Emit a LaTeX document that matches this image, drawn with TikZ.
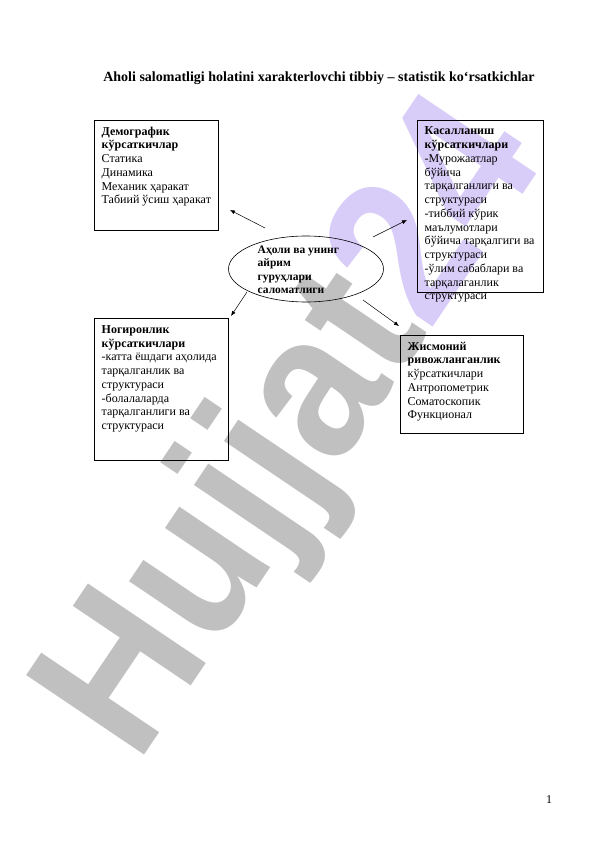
\documentclass[tikz,border=0pt]{standalone}
\usepackage{fontspec}
\setmainfont{Liberation Serif}
\newfontfamily\wmfont{Liberation Sans}
\usetikzlibrary{arrows.meta,shapes.geometric}
\definecolor{wmgray}{RGB}{192,192,192}
\definecolor{wmlav}{RGB}{216,204,248}
\tikzset{
  box/.style={draw, line width=0.6pt, anchor=north west, inner sep=0pt},
  txt/.style={anchor=north west, inner sep=0pt, align=left, font=\fontsize{12}{13.75}\selectfont},
  conn/.style={line width=0.5pt, -{Latex[length=5pt,width=4pt]}},
}
\begin{document}
\begin{tikzpicture}[x=1pt,y=-1pt]
\useasboundingbox (0,0) rectangle (596,842);
% watermark
\node[rotate=56, yscale=1.1, inner sep=0pt, font=\wmfont\bfseries\fontsize{188}{188}\selectfont] (wm) at (298,432) {\textcolor{wmgray}{Hujjat}\textcolor{wmlav}{24}};
% title
\node[inner sep=0pt, font=\bfseries\fontsize{14}{16}\selectfont] (title) at (319,78) {Aholi salomatligi holatini xarakterlovchi tibbiy – statistik ko‘rsatkichlar};
% boxes
\node[box, minimum width=124pt, minimum height=110pt] (dem) at (94,120) {};
\node[box, minimum width=126pt, minimum height=172pt] (kas) at (417,120) {};
\node[box, minimum width=134pt, minimum height=142pt] (nog) at (94,318) {};
\node[box, minimum width=123pt, minimum height=98pt] (jis) at (400,335) {};
\node[draw, line width=0.6pt, ellipse, minimum width=155pt, minimum height=66pt, inner sep=0pt] (ell) at (306,269) {};
% texts
\node[txt] (demt) at (101.5,126.7) {\textbf{Демографик}\\\textbf{кўрсаткичлар}\\Статика\\Динамика\\Механик ҳаракат\\Табиий ўсиш ҳаракат};
\node[txt] (kast) at (424.5,126.7) {\textbf{Касалланиш}\\\textbf{кўрсаткичлари}\\-Мурожаатлар\\бўйича\\тарқалганлиги ва\\структураси\\-тиббий кўрик\\маълумотлари\\бўйича тарқалгиги ва\\структураси\\-ўлим сабаблари ва\\тарқалаганлик\\структураси};
\node[txt] (nogt) at (101.5,325.2) {\textbf{Ногиронлик}\\\textbf{кўрсаткичлари}\\-катта ёшдаги аҳолида\\тарқалганлик ва\\структураси\\-болалаларда\\тарқалганлиги ва\\структураси};
\node[txt] (jist) at (407.5,341.7) {\textbf{Жисмоний}\\\textbf{ривожланганлик}\\кўрсаткичлари\\Антропометрик\\Соматоскопик\\Функционал};
\node[txt, font=\bfseries\fontsize{11.5}{13.5}\selectfont] (ellt) at (257.5,245.5) {Аҳоли ва унинг\\айрим\\гуруҳлари\\саломатлиги};
% connectors
\coordinate (a1s) at (265,228); \coordinate (a1e) at (230,210);
\coordinate (a2s) at (373,237); \coordinate (a2e) at (407,220);
\coordinate (a3s) at (247,292); \coordinate (a3e) at (231,316);
\coordinate (a4s) at (363,300); \coordinate (a4e) at (399,326);
\draw[conn] (a1s) -- (a1e);
\draw[conn] (a2s) -- (a2e);
\draw[conn] (a3s) -- (a3e);
\draw[conn] (a4s) -- (a4e);
% page number
\node[inner sep=0pt, font=\fontsize{12}{14}\selectfont] (pg) at (549,800) {1};
\end{tikzpicture}
\end{document}
